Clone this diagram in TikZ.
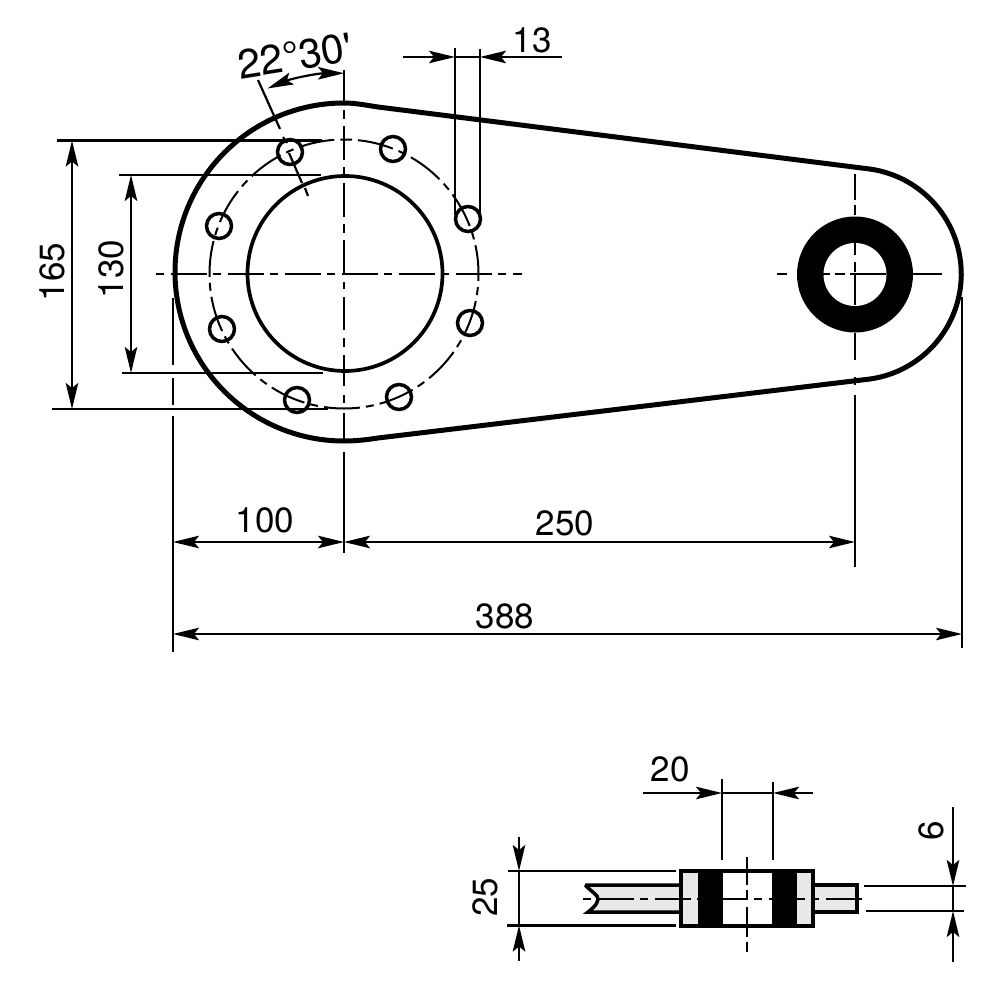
\documentclass[tikz,border=0pt]{standalone}
\usepackage{fontspec}
\setmainfont{TeX Gyre Heros}
\usetikzlibrary{arrows.meta}
\definecolor{platefill}{HTML}{E8E8E8}
\tikzset{
  dimtip/.tip={Stealth[length=26pt,width=12.5pt,inset=5pt]},
  thinline/.style={line width=2.2pt},
  dimline/.style={thinline,{dimtip}-{dimtip}},
  dimin/.style={thinline,-{dimtip}},
  centreline/.style={thinline,dash pattern=on 8pt off 7pt on 36pt off 6pt},
  pitchline/.style={line width=2pt,dash pattern=on 8pt off 6pt on 36pt off 6.1pt},
  outerline/.style={line width=5pt,line join=round},
  boreline/.style={line width=3.7pt},
  holeline/.style={line width=3.5pt},
  dimtext/.style={font=\fontsize{35}{35}\selectfont,inner sep=0pt}
}
\begin{document}
\begin{tikzpicture}[x=1pt,y=-1pt]
\useasboundingbox (0,0) rectangle (1000,995);
\coordinate (c_hub) at (344,273.5);
\coordinate (c_eye) at (855,274.5);
% arm outline
\draw[outerline] (344,103) arc[start angle=270,end angle=90,radius=169]
  .. controls (355,441) and (365,440) .. (378,438) -- (870,379)
  arc[start angle=82,end angle=-82,radius=106] -- (378,107)
  .. controls (365,105) and (355,103) .. (344,103) -- cycle;
\draw[boreline] (c_hub) ++(1,0) circle[radius=97.5];
\draw[pitchline] (344,139.5) arc[start angle=270,end angle=630,radius=134.5];
\foreach \x/\y in {290/152,393/149,468/219,219/226,470/323,399/397,297/400,222/329}
  \draw[holeline] (\x,\y) circle[radius=12.5];
% eye
\fill (c_eye) circle[radius=58];
\fill[white] (c_eye) circle[radius=31.5];
% centre lines
\draw[centreline] (156,274) -- (522,274);
\draw[thinline] (344,70) -- (344,103);
\foreach \a/\b in {110/119,126/160,167/175,183/217,224/233,240/274,282/289,297/330,338/347,355/386,395/403,413/443}
  \draw[thinline] (344,\a) -- (344,\b);
\foreach \a/\b in {174/200,205/215,243/255,262/272,274/305,333/360,377/385}
  \draw[thinline] (855,\a) -- (855,\b);
\foreach \a/\b in {777/787,823/830,835/845,850/886,913/942}
  \draw[thinline] (\a,274) -- (\b,274);
% pitch angle
\draw[thinline] (258,80) -- (280,129);
\draw[thinline] (283,137) -- (287,143);
\draw[thinline] (289,153) -- (302,183);
\draw[thinline] (305,188) -- (308,196);
\draw[dimline] (267.5,88.5) arc[start angle=247.5,end angle=270,radius=200];
\node[dimtext,font=\fontsize{41}{41}\selectfont,rotate=9] (t_angle) at (295,56) {22°30\textquotesingle};
% dimension 13
\draw[thinline] (455,48) -- (455,215);
\draw[thinline] (480,49) -- (480,218);
\draw[dimin] (403,57) -- (455,57);
\draw[dimin] (562,57) -- (480,57);
\draw[thinline] (455,57) -- (480,57);
\node[dimtext] (t_13) at (532,40) {13};
% dimensions 165 and 130
\draw[thinline] (57,140.5) -- (322,140.5);
\draw[thinline] (52,409) -- (328,409);
\draw[thinline] (119,175) -- (321,175);
\draw[thinline] (122,373) -- (323,373);
\draw[dimline] (72,140.5) -- (72,409);
\draw[dimline] (131,175) -- (131,373);
\node[dimtext,rotate=90] (t_165) at (52,272) {165};
\node[dimtext,rotate=90] (t_130) at (111,269) {130};
% dimensions 100, 250 and 388
\draw[thinline] (173,298) -- (173,365);
\draw[thinline] (173,378) -- (173,405);
\draw[thinline] (173,416) -- (173,652);
\draw[thinline] (344,452) -- (344,553);
\draw[thinline] (855,395) -- (855,567);
\draw[thinline] (962,297) -- (962,648);
\draw[dimline] (173,542) -- (344,542);
\draw[dimline] (344,542) -- (855,542);
\draw[dimline] (173,634) -- (962,634);
\node[dimtext] (t_100) at (265,520) {100};
\node[dimtext] (t_250) at (565,523) {250};
\node[dimtext] (t_388) at (505,616) {388};
% side view
\draw[holeline,fill=platefill] (585,885) -- (681,885) -- (681,912) -- (588,912)
  .. controls (596,906) and (600,900) .. (597,896) .. controls (593,892) and (589,889) .. (585,885);
\draw[holeline,fill=platefill] (813,885) -- (857,885) -- (857,912) -- (813,912) -- cycle;
\fill[platefill] (681,871) rectangle (813,926);
\fill[white] (723,871) rectangle (772,926);
\fill (698,871) rectangle (723,926);
\fill (772,871) rectangle (797,926);
\draw[holeline] (681,871) rectangle (813,926);
\draw[centreline] (583,899) -- (866,899);
\foreach \a/\b in {857/885,890/898,907/937,942/952}
  \draw[thinline] (747,\a) -- (747,\b);
% dimension 20
\draw[thinline] (722,779) -- (722,860);
\draw[thinline] (773,782) -- (773,860);
\draw[dimin] (643,793) -- (722,793);
\draw[dimin] (813,793) -- (773,793);
\draw[thinline] (722,793) -- (773,793);
\node[dimtext] (t_20) at (670,769) {20};
% dimension 25
\draw[thinline] (508,871) -- (676,871);
\draw[thinline] (507,925.5) -- (676,925.5);
\draw[dimin] (519,837) -- (519,871);
\draw[dimin] (519,961) -- (519,925.5);
\draw[thinline] (519,871) -- (519,925.5);
\node[dimtext,rotate=90] (t_25) at (485.5,897) {25};
% dimension 6
\draw[thinline] (864,886) -- (966,886);
\draw[thinline] (866,911) -- (964,911);
\draw[dimin] (953,807) -- (953,886);
\draw[dimin] (953,962) -- (953,911);
\draw[thinline] (953,886) -- (953,911);
\node[dimtext,rotate=90] (t_6) at (931,831) {6};
\end{tikzpicture}
\end{document}
